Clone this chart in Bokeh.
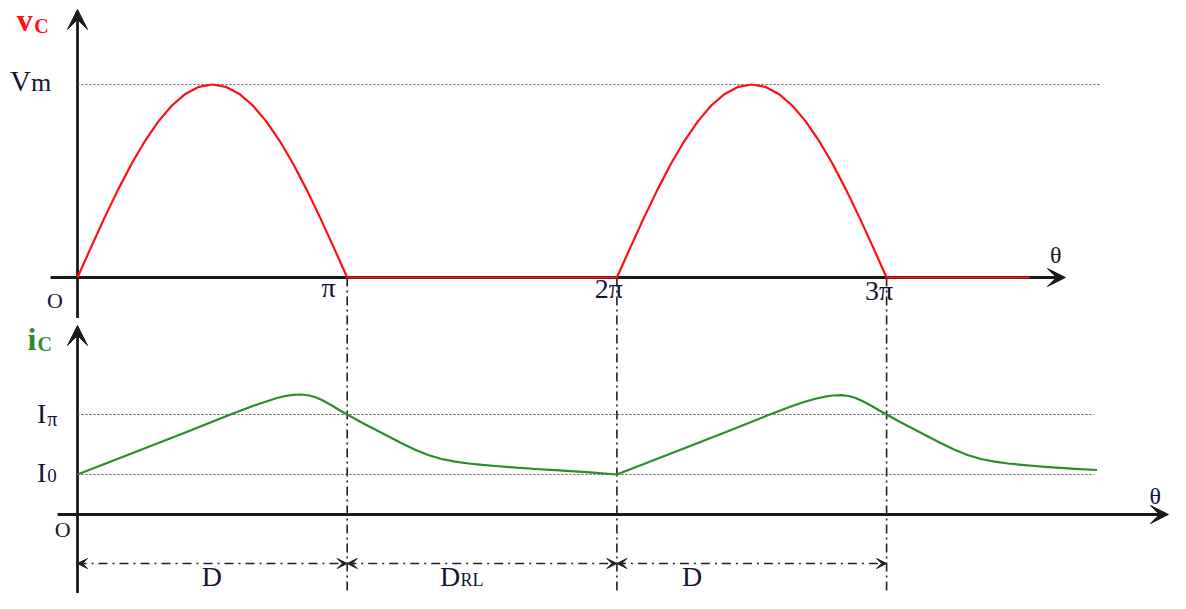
from bokeh.plotting import figure
from bokeh.models import Range1d, Arrow, VeeHead
from bokeh.core.properties import value
from bokeh.embed import file_html
from bokeh.resources import INLINE

# ---------------- data (theta in units of pi) ----------------
vc_theta = [0.00, 0.05, 0.10, 0.15, 0.20, 0.25, 0.30, 0.35, 0.40, 0.45, 0.50,
            0.55, 0.60, 0.65, 0.70, 0.75, 0.80, 0.85, 0.90, 0.95, 1.00,
            2.00, 2.05, 2.10, 2.15, 2.20, 2.25, 2.30, 2.35, 2.40, 2.45, 2.50,
            2.55, 2.60, 2.65, 2.70, 2.75, 2.80, 2.85, 2.90, 2.95, 3.00, 3.53]
vc_vals = [0.000, 0.156, 0.309, 0.454, 0.588, 0.707, 0.809, 0.891, 0.951, 0.988, 1.000,
           0.988, 0.951, 0.891, 0.809, 0.707, 0.588, 0.454, 0.309, 0.156, 0.000,
           0.000, 0.156, 0.309, 0.454, 0.588, 0.707, 0.809, 0.891, 0.951, 0.988, 1.000,
           0.988, 0.951, 0.891, 0.809, 0.707, 0.588, 0.454, 0.309, 0.156, 0.000, 0.000]

ic_theta = [0.00, 0.20, 0.40, 0.567, 0.65, 0.70, 0.74, 0.77, 0.80, 0.83, 0.86,
            0.885, 0.91, 0.94, 0.97, 1.00,
            1.05, 1.10, 1.15, 1.20, 1.25, 1.30, 1.35, 1.40, 1.45, 1.50, 1.55,
            1.60, 1.70, 1.80, 1.90, 2.00,
            2.20, 2.40, 2.567, 2.65, 2.70, 2.74, 2.77, 2.80, 2.83, 2.86,
            2.885, 2.91, 2.94, 2.97, 3.00,
            3.05, 3.10, 3.15, 3.20, 3.25, 3.30, 3.35, 3.40, 3.45, 3.50, 3.55,
            3.60, 3.70, 3.78]
ic_vals = [0.40, 0.61, 0.82, 1.00, 1.085, 1.13, 1.165, 1.185, 1.197, 1.20, 1.19,
           1.17, 1.14, 1.095, 1.045, 1.00,
           0.925, 0.855, 0.785, 0.715, 0.65, 0.595, 0.555, 0.528, 0.51, 0.497, 0.485,
           0.474, 0.455, 0.438, 0.422, 0.40,
           0.61, 0.82, 1.00, 1.085, 1.13, 1.16, 1.178, 1.19, 1.193, 1.185,
           1.165, 1.135, 1.093, 1.045, 1.00,
           0.925, 0.855, 0.785, 0.715, 0.65, 0.595, 0.555, 0.528, 0.51, 0.497, 0.485,
           0.474, 0.457, 0.445]

Vm = 1.0
I_pi = 1.00
I_0 = 0.40
boundaries = [1, 2, 3]            # pi, 2pi, 3pi
tick_labels = ["\u03c0", "2\u03c0", "3\u03c0"]
intervals = [(0, 1), (1, 2), (2, 3)]

RED = "#ff1010"
GREEN = "#2a8c2a"
INK = "#151530"
AX = "#1a1a1a"
SERIF = value("Liberation Serif")

p = figure(width=1170, height=593,
           x_range=Range1d(-0.28550, 4.05265),
           y_range=Range1d(-1.63731, 1.43523),
           x_axis_type=None, y_axis_type=None,
           output_backend="svg", toolbar_location=None,
           min_border=0, outline_line_color=None,
           background_fill_color="white", border_fill_color="white")
p.extra_y_ranges = {"ic": Range1d(-0.79, 5.14)}

# ---------- axes as arrows ----------
def ax_arrow(x0, y0, x1, y1, size, rng="default"):
    a = Arrow(x_start=x0, y_start=y0, x_end=x1, y_end=y1,
              line_width=2.8, line_color=AX, y_range_name=rng, level="underlay",
              end=VeeHead(size=size, fill_color=AX, line_color=AX, line_width=1),
              start=None)
    p.add_layout(a)

ax_arrow(-0.10, 0, 3.663, 0, 18)            # top theta axis
ax_arrow(0, -0.21, 0, 1.389, 20)            # vc axis
ax_arrow(-0.074, 0, 4.045, 0, 18, "ic")     # bottom theta axis
ax_arrow(0, -0.95, 0, 1.89, 20, "ic")       # ic axis

# ---------- reference dotted lines ----------
p.segment(x0=[0], y0=[Vm], x1=[3.79], y1=[Vm], line_color="#555555",
          line_width=1.1, line_dash="2 2")
p.segment(x0=[0, 0], y0=[I_pi, I_0], x1=[3.77, 3.77], y1=[I_pi, I_0],
          line_color="#555555", line_width=1.1, line_dash="2 2",
          y_range_name="ic")

# ---------- vertical dash-dot lines ----------
p.segment(x0=boundaries, y0=[0] * 3, x1=boundaries, y1=[-1.75] * 3,
          line_color="#222222", line_width=1.6, line_dash="9 4 2 4")

# ---------- curves ----------
p.line(vc_theta, vc_vals, line_color=RED, line_width=2.2, line_join="round")
p.line(ic_theta, ic_vals, line_color=GREEN, line_width=2.2, line_join="round",
       y_range_name="ic")

# ---------- dimension arrows ----------
for a0, a1 in intervals:
    p.add_layout(Arrow(x_start=a0, y_start=-0.49, x_end=a1, y_end=-0.49,
                       line_width=1.6, line_color="#222222", line_dash="9 5 2 5",
                       y_range_name="ic",
                       start=VeeHead(size=10, fill_color="#222222", line_color="#222222", line_width=1),
                       end=VeeHead(size=10, fill_color="#222222", line_color="#222222", line_width=1)))

# ---------- labels ----------
def lab(x, y, t, size, color=INK, bold=False, rng="default"):
    p.text(x=[x], y=[y], text=[t], text_font=SERIF, text_font_size=size,
           text_color=color, text_align="left", text_baseline="alphabetic",
           text_font_style="bold" if bold else "normal", y_range_name=rng)

# vc label
lab(-0.225, 1.335, "v", "32px", RED, True)
lab(-0.160, 1.305, "C", "20px", RED, True)
# Vm
lab(-0.250, 1.017, "V", "29px")
lab(-0.172, 1.011, "m", "26px")
# origin top
lab(-0.113, -0.121, "O", "22px")
# pi ticks
lab(0.905, -0.053, tick_labels[0], "28px")
lab(1.918, -0.058, tick_labels[1], "28px")
lab(2.920, -0.068, tick_labels[2], "28px")
# theta top
lab(3.606, 0.117, "\u03b8", "24px")

# ic label
lab(-0.185, 1.752, "i", "32px", GREEN, True, "ic")
lab(-0.148, 1.71, "C", "20px", GREEN, True, "ic")
# I_pi, I_0
lab(-0.150, 1.008, "I", "28px", rng="ic")
lab(-0.112, 0.96, "\u03c0", "20px", rng="ic")
lab(-0.150, 0.418, "I", "28px", rng="ic")
lab(-0.112, 0.386, "0", "19px", rng="ic")
# origin bottom
lab(-0.084, -0.153, "O", "22px", rng="ic")
# theta bottom
lab(3.975, 0.184, "\u03b8", "24px", rng="ic")
# D labels
lab(0.461, -0.615, "D", "28px", rng="ic")
lab(1.344, -0.615, "D", "28px", rng="ic")
lab(1.420, -0.65, "RL", "18px", rng="ic")
lab(2.241, -0.615, "D", "28px", rng="ic")

open("out.html", "w").write(file_html(p, INLINE))
